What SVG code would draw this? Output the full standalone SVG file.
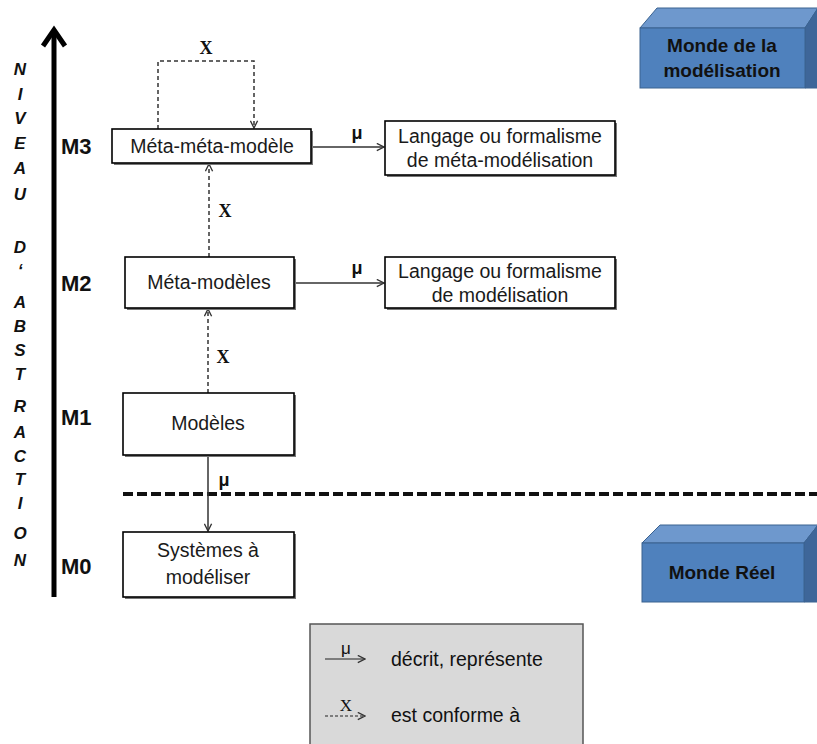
<svg xmlns="http://www.w3.org/2000/svg" width="817" height="744" viewBox="0 0 817 744">
<style>
text{font-family:"Liberation Sans",Arial,sans-serif;fill:#111}
.node rect.b{fill:#fff;stroke:#000;stroke-width:1.6}
.node rect.s{fill:#777}
.t{font-size:19.5px;text-anchor:middle;fill:#1a1a1a}
.lvl{font-size:22px;font-weight:bold}
.ax{font-size:17px;font-weight:bold;font-style:italic;text-anchor:middle}
.mu{font-size:18px;font-weight:bold;text-anchor:middle}
.chi{font-family:"Liberation Serif","Times New Roman",serif;font-size:18px;font-weight:bold;text-anchor:middle}
.solid{fill:none;stroke:#333;stroke-width:1.5}
.dash{fill:none;stroke:#333;stroke-width:1.5;stroke-dasharray:4 3}
.front{fill:#4F81BD;stroke:#3A6290;stroke-width:1}
.top{fill:#6E98CD;stroke:#3A6290;stroke-width:1}
.side{fill:#3E6699;stroke:#3A6290;stroke-width:1}
.wt{font-size:19px;font-weight:bold;text-anchor:middle}
</style>
<defs>
<marker id="ah" viewBox="0 0 10 10" refX="9" refY="5" markerWidth="9" markerHeight="9" markerUnits="userSpaceOnUse" orient="auto">
<path d="M1,1 L9,5 L1,9" fill="none" stroke="#333" stroke-width="1.5"/>
</marker>
</defs>

<g id="axis">
<line x1="54" y1="30" x2="54" y2="597" stroke="#000" stroke-width="5"/>
<path d="M43,46 L54,30 L65,46" fill="none" stroke="#000" stroke-width="5" stroke-linejoin="miter"/>
<g class="ax">
<text x="20" y="75">N</text><text x="20" y="100">I</text><text x="20" y="124">V</text><text x="20" y="149">E</text><text x="20" y="174">A</text><text x="20" y="200">U</text>
<text x="20" y="253">D</text><text x="20" y="276">‘</text><text x="20" y="308">A</text><text x="20" y="332">B</text><text x="20" y="356">S</text><text x="20" y="380">T</text><text x="20" y="412">R</text><text x="20" y="438">A</text><text x="20" y="462">C</text><text x="20" y="485">T</text><text x="20" y="509">I</text><text x="20" y="539">O</text><text x="20" y="566">N</text>
</g>
<g class="lvl">
<text x="61" y="154">M3</text><text x="61" y="291">M2</text><text x="61" y="425">M1</text><text x="61" y="574">M0</text>
</g>
</g>

<g id="separator">
<line x1="123" y1="494" x2="817" y2="494" stroke="#111" stroke-width="4" stroke-dasharray="10 4"/>
</g>

<g id="connectors">
<path class="dash" d="M158,129 V61 H254 V128" marker-end="url(#ah)"/>
<text class="chi" x="206" y="54">Χ</text>
<line class="dash" x1="209" y1="257" x2="209" y2="164" marker-end="url(#ah)"/>
<text class="chi" x="225" y="217">Χ</text>
<line class="dash" x1="208" y1="393" x2="208" y2="309" marker-end="url(#ah)"/>
<text class="chi" x="223" y="363">Χ</text>
<line class="solid" x1="312" y1="147" x2="384" y2="147" marker-end="url(#ah)"/>
<text class="mu" x="357" y="139">μ</text>
<line class="solid" x1="295" y1="283" x2="384" y2="283" marker-end="url(#ah)"/>
<text class="mu" x="357" y="274">μ</text>
<line class="solid" x1="208" y1="456" x2="208" y2="531" marker-end="url(#ah)"/>
<text class="mu" x="224" y="486">μ</text>
</g>

<g id="m3" class="node">
<rect class="s" x="114" y="131" width="199" height="34"/>
<rect class="b" x="112" y="129" width="199" height="34"/>
<text class="t" x="212" y="153">Méta-méta-modèle</text>
</g>
<g id="lang-meta" class="node">
<rect class="s" x="387" y="123" width="230" height="54"/>
<rect class="b" x="385" y="121" width="230" height="54"/>
<text class="t" x="500" y="143">Langage ou formalisme</text>
<text class="t" x="500" y="167">de méta-modélisation</text>
</g>
<g id="m2" class="node">
<rect class="s" x="127" y="259" width="169" height="51"/>
<rect class="b" x="125" y="257" width="169" height="51"/>
<text class="t" x="209" y="289">Méta-modèles</text>
</g>
<g id="lang" class="node">
<rect class="s" x="387" y="259" width="230" height="51"/>
<rect class="b" x="385" y="257" width="230" height="51"/>
<text class="t" x="500" y="278">Langage ou formalisme</text>
<text class="t" x="500" y="302">de modélisation</text>
</g>
<g id="m1" class="node">
<rect class="s" x="125" y="395" width="171" height="62"/>
<rect class="b" x="123" y="393" width="171" height="62"/>
<text class="t" x="208" y="430">Modèles</text>
</g>
<g id="m0" class="node">
<rect class="s" x="125" y="534" width="171" height="65"/>
<rect class="b" x="123" y="532" width="171" height="65"/>
<text class="t" x="208" y="557">Systèmes à</text>
<text class="t" x="208" y="584">modéliser</text>
</g>

<g id="monde-modelisation">
<polygon class="top" points="640,28 657,8 818,8 805,28"/>
<polygon class="side" points="805,28 818,8 818,88 805,88"/>
<rect class="front" x="640" y="28" width="165" height="60"/>
<text class="wt" x="722" y="52">Monde de la</text>
<text class="wt" x="722" y="77">modélisation</text>
</g>
<g id="monde-reel">
<polygon class="top" points="642,543 660,525 818,525 804,543"/>
<polygon class="side" points="804,543 818,525 818,602 804,602"/>
<rect class="front" x="642" y="543" width="162" height="59"/>
<text class="wt" x="722" y="579">Monde Réel</text>
</g>

<g id="legend">
<rect x="310" y="624" width="273" height="130" fill="#D9D9D9" stroke="#555" stroke-width="1.5"/>
<line x1="325" y1="659" x2="365" y2="659" stroke="#222" stroke-width="1.2" marker-end="url(#ah)"/>
<text x="346" y="654" font-size="17" text-anchor="middle">μ</text>
<text x="391" y="666" font-size="19.5">décrit, représente</text>
<line x1="325" y1="716" x2="365" y2="716" stroke="#222" stroke-width="1.2" stroke-dasharray="3 2" marker-end="url(#ah)"/>
<text x="346" y="711" font-size="17" text-anchor="middle" style="font-family:'Liberation Serif',serif">Χ</text>
<text x="391" y="722" font-size="19.5">est conforme à</text>
</g>
</svg>
